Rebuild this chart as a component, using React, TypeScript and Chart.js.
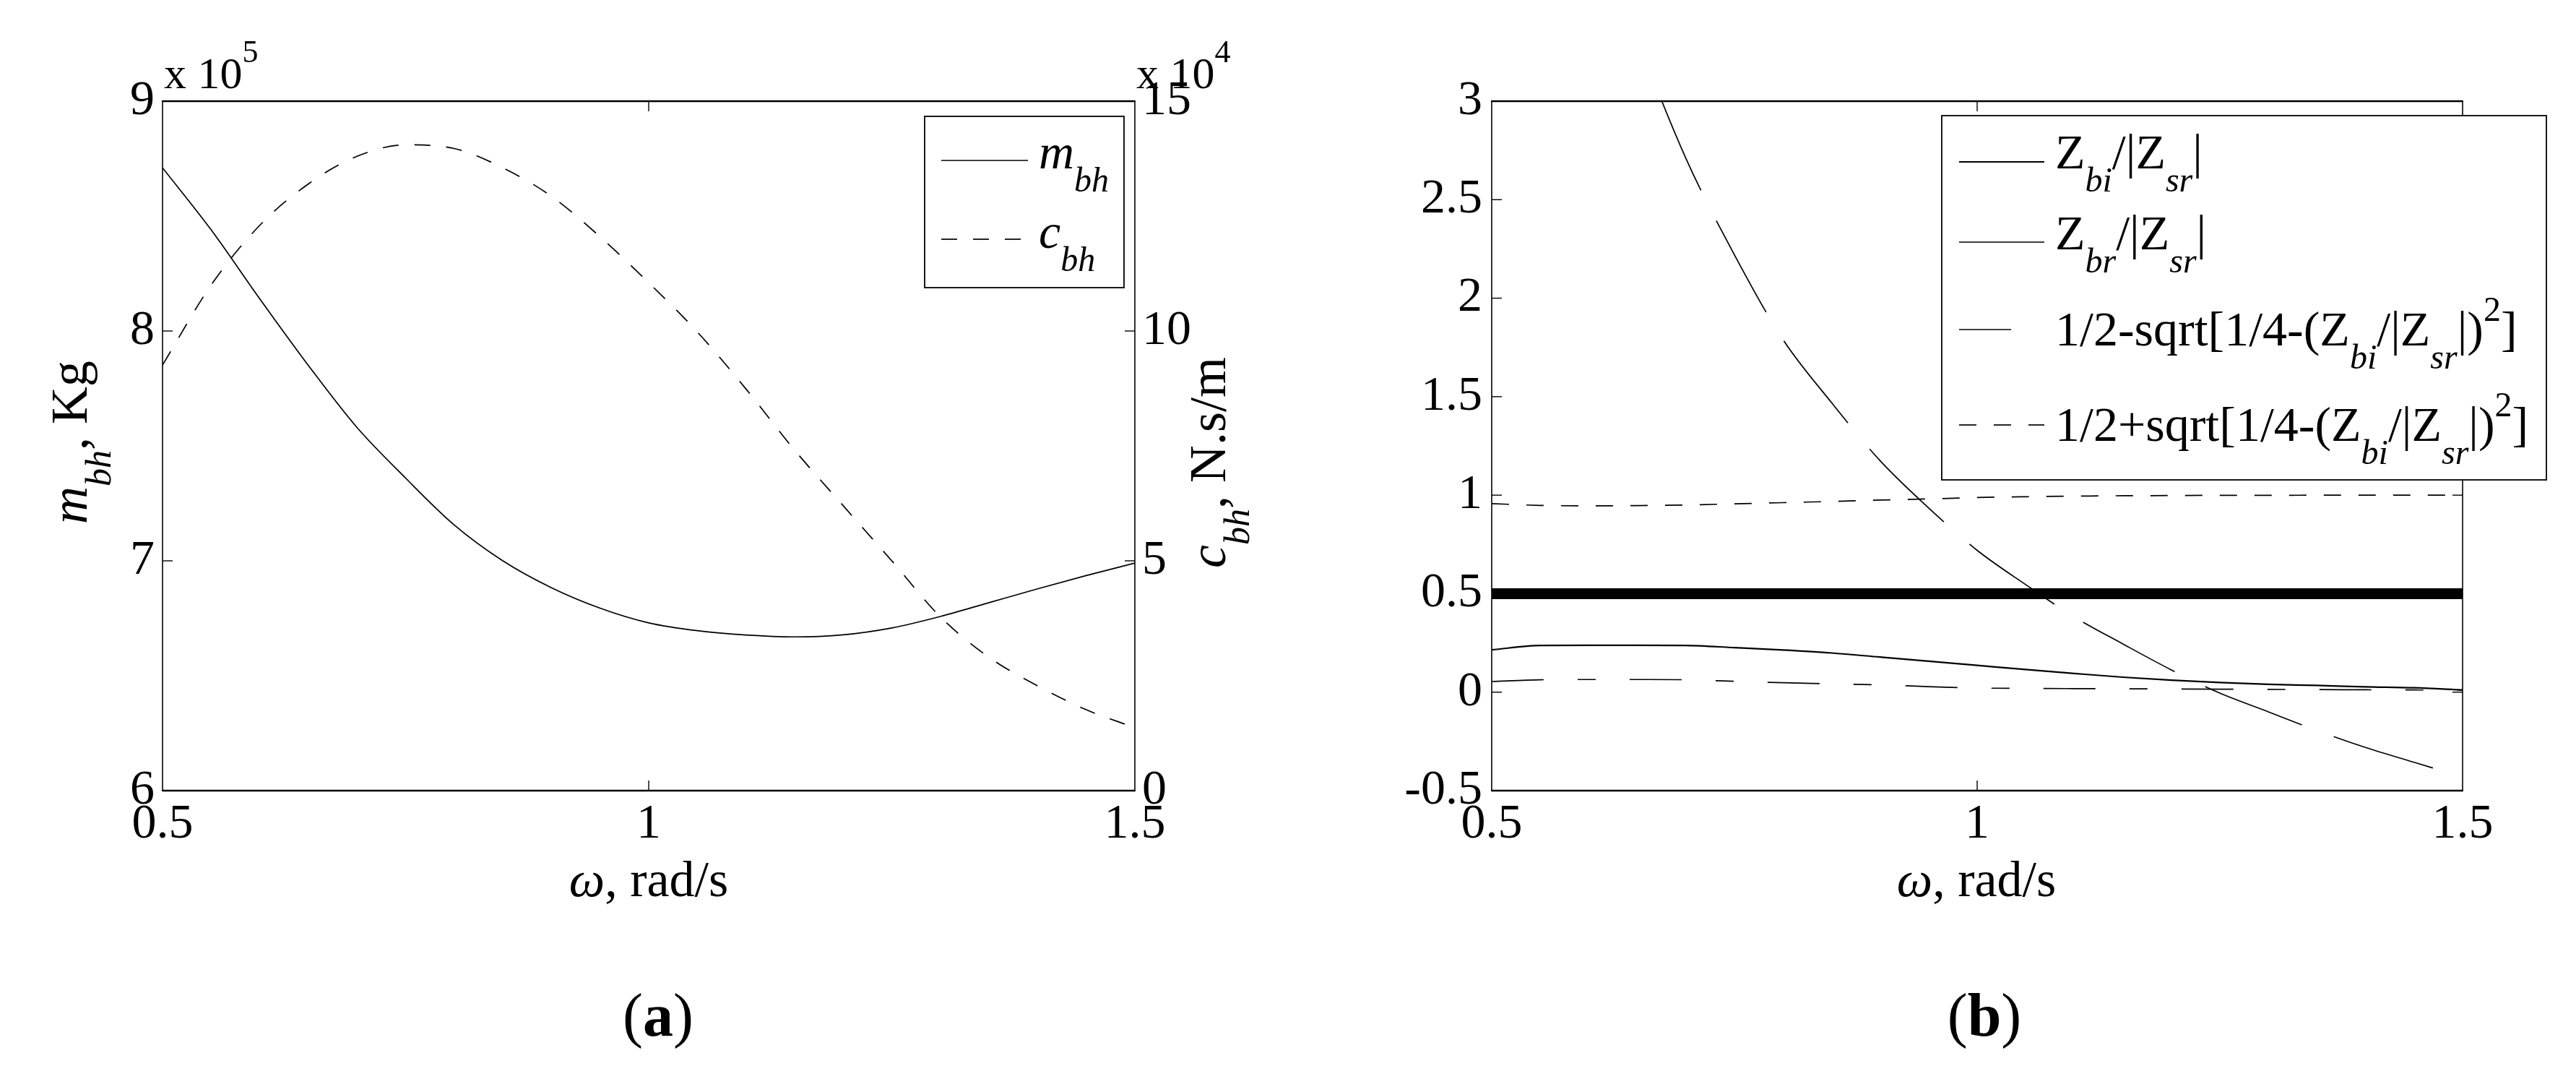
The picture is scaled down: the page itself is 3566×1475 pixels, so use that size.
import React, { useEffect, useRef } from "react";
import { Chart, registerables } from "chart.js";

Chart.register(...registerables);

const SERIF = "'Liberation Serif', 'Times New Roman', Times, serif";

// ---------- data ----------
const omega = [0.5, 0.55, 0.6, 0.65, 0.7, 0.75, 0.8, 0.85, 0.9, 0.95, 1.0, 1.05, 1.1, 1.15, 1.2, 1.25, 1.3, 1.35, 1.4, 1.45, 1.5];

// panel (a): m_bh in units of 10^5 Kg, c_bh in units of 10^4 N.s/m
const massBh = [8.71, 8.44, 8.14, 7.85, 7.58, 7.36, 7.156, 7.0, 6.883, 6.794, 6.73, 6.696, 6.677, 6.669, 6.678, 6.708, 6.758, 6.818, 6.878, 6.936, 6.99];
const dampBh = [9.26, 11.0, 12.3, 13.2, 13.8, 14.05, 13.97, 13.55, 12.93, 12.05, 11.05, 9.98, 8.74, 7.41, 6.2, 5.0, 3.78, 2.9, 2.28, 1.76, 1.37];

// panel (b)
const zbiRatio = [0.215, 0.237, 0.238, 0.238, 0.237, 0.226, 0.214, 0.199, 0.178, 0.157, 0.136, 0.115, 0.095, 0.076, 0.061, 0.049, 0.04, 0.034, 0.027, 0.022, 0.011];
const zbrRatio = [5.7, 4.8, 4.0, 3.32, 2.71, 2.22, 1.79, 1.47, 1.175, 0.935, 0.72, 0.546, 0.382, 0.245, 0.113, -0.005, -0.1, -0.195, -0.281, -0.356, -0.43];
const rootMinus = [0.054, 0.063, 0.064, 0.064, 0.063, 0.055, 0.048, 0.042, 0.037, 0.028, 0.021, 0.019, 0.018, 0.017, 0.016, 0.015, 0.014, 0.013, 0.012, 0.011, 0.01];
const rootPlus = [0.957, 0.948, 0.946, 0.947, 0.95, 0.956, 0.962, 0.968, 0.975, 0.981, 0.988, 0.992, 0.995, 0.997, 0.998, 0.999, 0.999, 1.0, 1.0, 1.0, 1.0];
const halfOmega = [0.5, 1.5];
const halfLevel = [0.5, 0.5];

// tick labels
const omegaTicks = [0.5, 1, 1.5];
const massTicks = [6, 7, 8, 9];
const dampTicks = [0, 5, 10, 15];
const ratioTicks = [-0.5, 0, 0.5, 1, 1.5, 2, 2.5, 3];

// ---------- rich text helpers ----------
type Seg = { t: string; s: number; i?: boolean; b?: boolean; dy?: number };
const fontOf = (g: Seg) => `${g.i ? "italic " : ""}${g.b ? "bold " : ""}${g.s}px ${SERIF}`;

function richWidth(ctx: CanvasRenderingContext2D, segs: Seg[]) {
  let w = 0;
  for (const g of segs) {
    ctx.font = fontOf(g);
    w += ctx.measureText(g.t).width;
  }
  return w;
}
function drawRich(ctx: CanvasRenderingContext2D, segs: Seg[], x: number, y: number, align: "left" | "center") {
  let cx = align === "center" ? x - richWidth(ctx, segs) / 2 : x;
  ctx.textAlign = "left";
  ctx.textBaseline = "alphabetic";
  for (const g of segs) {
    ctx.font = fontOf(g);
    ctx.fillText(g.t, cx, y + (g.dy || 0));
    cx += ctx.measureText(g.t).width;
  }
}

interface TextItem { segs: Seg[]; x: number; y: number; align: "left" | "center"; rotate?: boolean }
interface LegendRow { ds: number; lineY: number; baseY: number; segs: Seg[] }
interface Decor {
  texts: TextItem[];
  legend: { box: [number, number, number, number]; lineX: [number, number]; textX: number; rows: LegendRow[] };
  yTickSides: { id: string; side: "left" | "right" }[];
}

const TICK_LEN = 14;

function decorPlugin(d: Decor) {
  return {
    id: "decor",
    afterDraw(chart: any) {
      const ctx: CanvasRenderingContext2D = chart.ctx;
      const a = chart.chartArea;
      const seg = (x0: number, y0: number, x1: number, y1: number) => {
        ctx.beginPath();
        ctx.moveTo(x0, y0);
        ctx.lineTo(x1, y1);
        ctx.stroke();
      };
      ctx.save();
      ctx.strokeStyle = "#000";
      ctx.fillStyle = "#000";
      ctx.setLineDash([]);
      ctx.lineCap = "butt";

      // inward ticks
      ctx.lineWidth = 1.4;
      const xs = chart.scales.x;
      xs.ticks.forEach((t: any) => {
        const px = xs.getPixelForValue(t.value);
        if (px <= a.left + 1 || px >= a.right - 1) return;
        seg(px, a.bottom, px, a.bottom - TICK_LEN);
        seg(px, a.top, px, a.top + TICK_LEN);
      });
      d.yTickSides.forEach(({ id, side }) => {
        const s = chart.scales[id];
        s.ticks.forEach((t: any) => {
          const py = s.getPixelForValue(t.value);
          if (py <= a.top + 1 || py >= a.bottom - 1) return;
          const x0 = side === "left" ? a.left : a.right;
          const x1 = side === "left" ? x0 + TICK_LEN : x0 - TICK_LEN;
          seg(x0, py, x1, py);
        });
      });

      // axes box
      ctx.lineWidth = 2.4;
      seg(a.left - 0.8, a.top, a.right + 0.8, a.top);
      seg(a.left - 0.8, a.bottom, a.right + 0.8, a.bottom);
      ctx.lineWidth = 1.6;
      seg(a.left, a.top, a.left, a.bottom);
      seg(a.right, a.top, a.right, a.bottom);

      // legend
      const L = d.legend;
      const [bx0, by0, bx1, by1] = L.box;
      ctx.fillStyle = "#fff";
      ctx.fillRect(bx0, by0, bx1 - bx0, by1 - by0);
      ctx.fillStyle = "#000";
      ctx.lineWidth = 1.8;
      ctx.strokeRect(bx0, by0, bx1 - bx0, by1 - by0);
      L.rows.forEach((r) => {
        const ds = chart.data.datasets[r.ds];
        ctx.lineWidth = Math.min(ds.borderWidth || 1.5, 3);
        ctx.setLineDash(ds.borderDash || []);
        seg(L.lineX[0], r.lineY, L.lineX[1], r.lineY);
        ctx.setLineDash([]);
        drawRich(ctx, r.segs, L.textX, r.baseY, "left");
      });

      // texts
      d.texts.forEach((t) => {
        if (t.rotate) {
          ctx.save();
          ctx.translate(t.x, t.y);
          ctx.rotate(-Math.PI / 2);
          drawRich(ctx, t.segs, 0, 0, "center");
          ctx.restore();
        } else {
          drawRich(ctx, t.segs, t.x, t.y, t.align);
        }
      });
      ctx.restore();
    },
  };
}

// ---------- shared axis helpers ----------
const tickFont = { family: SERIF, size: 68 };
const fmt = (v: number) => String(Math.round(v * 10) / 10);

function xAxis() {
  return {
    type: "linear",
    min: 0.5,
    max: 1.5,
    afterBuildTicks: (s: any) => {
      s.ticks = omegaTicks.map((v) => ({ value: v }));
    },
    afterFit: (s: any) => {
      s.height = 381;
    },
    ticks: { font: tickFont, color: "#000", padding: 6, maxRotation: 0, autoSkip: false, callback: (v: any) => fmt(Number(v)) },
    grid: { display: false, drawTicks: false },
    border: { display: false },
  };
}

const sub = (t: string, s = 48, dy = 32): Seg => ({ t, s, i: true, dy });

// ---------- panel configs ----------
function configA() {
  const decor: Decor = {
    texts: [
      { segs: [{ t: "x 10", s: 62 }, { t: "5", s: 44, dy: -36 }], x: 227, y: 122, align: "left" },
      { segs: [{ t: "x 10", s: 62 }, { t: "4", s: 44, dy: -36 }], x: 1573, y: 122, align: "left" },
      { segs: [{ t: "m", s: 72, i: true }, sub("bh", 50, 33), { t: ", Kg", s: 72 }], x: 120, y: 612, align: "center", rotate: true },
      { segs: [{ t: "c", s: 72, i: true }, sub("bh", 50, 33), { t: ", N.s/m", s: 72 }], x: 1696, y: 640, align: "center", rotate: true },
      { segs: [{ t: "ω", s: 70, i: true }, { t: ", rad/s", s: 70 }], x: 898, y: 1240, align: "center" },
      { segs: [{ t: "(", s: 84 }, { t: "a", s: 84, b: true }, { t: ")", s: 84 }], x: 911, y: 1433, align: "center" },
    ],
    legend: {
      box: [1280, 161, 1556, 398],
      lineX: [1303, 1423],
      textX: 1438,
      rows: [
        { ds: 0, lineY: 222, baseY: 233, segs: [{ t: "m", s: 68, i: true }, sub("bh")] },
        { ds: 1, lineY: 331, baseY: 343, segs: [{ t: "c", s: 68, i: true }, sub("bh")] },
      ],
    },
    yTickSides: [
      { id: "y", side: "left" },
      { id: "y1", side: "right" },
    ],
  };
  return {
    type: "line",
    data: {
      datasets: [
        {
          label: "m_bh",
          data: omega.map((x, i) => ({ x, y: massBh[i] })),
          yAxisID: "y",
          borderColor: "#000",
          borderWidth: 1.7,
          pointRadius: 0,
          cubicInterpolationMode: "monotone",
          fill: false,
        },
        {
          label: "c_bh",
          data: omega.map((x, i) => ({ x, y: dampBh[i] })),
          yAxisID: "y1",
          borderColor: "#000",
          borderWidth: 1.7,
          borderDash: [22, 22],
          pointRadius: 0,
          cubicInterpolationMode: "monotone",
          fill: false,
        },
      ],
    },
    options: {
      responsive: false,
      animation: false,
      devicePixelRatio: 1,
      events: [],
      layout: { padding: { top: 140, left: 0, right: 0, bottom: 0 } },
      plugins: { legend: { display: false }, tooltip: { enabled: false }, title: { display: false } },
      scales: {
        x: xAxis(),
        y: {
          type: "linear",
          position: "left",
          min: 6,
          max: 9,
          afterBuildTicks: (s: any) => {
            s.ticks = massTicks.map((v) => ({ value: v }));
          },
          afterFit: (s: any) => {
            s.width = 225;
          },
          ticks: { font: tickFont, color: "#000", padding: 11, callback: (v: any) => fmt(Number(v)) },
          grid: { display: false, drawTicks: false },
          border: { display: false },
        },
        y1: {
          type: "linear",
          position: "right",
          min: 0,
          max: 15,
          afterBuildTicks: (s: any) => {
            s.ticks = dampTicks.map((v) => ({ value: v }));
          },
          afterFit: (s: any) => {
            s.width = 212;
          },
          ticks: { font: tickFont, color: "#000", padding: 10, callback: (v: any) => fmt(Number(v)) },
          grid: { display: false, drawTicks: false },
          border: { display: false },
        },
      },
    },
    plugins: [decorPlugin(decor)],
  };
}

function ratioSegs(sign: string): Seg[] {
  return [
    { t: `1/2${sign}sqrt[1/4-(Z`, s: 68 },
    sub("bi"),
    { t: "/|Z", s: 68 },
    sub("sr"),
    { t: "|)", s: 68 },
    { t: "2", s: 48, dy: -34 },
    { t: "]", s: 68 },
  ];
}

function configB() {
  const decor: Decor = {
    texts: [
      { segs: [{ t: "ω", s: 70, i: true }, { t: ", rad/s", s: 70 }], x: 953, y: 1240, align: "center" },
      { segs: [{ t: "(", s: 84 }, { t: "b", s: 84, b: true }, { t: ")", s: 84 }], x: 964, y: 1433, align: "center" },
    ],
    legend: {
      box: [905, 160, 1742, 664],
      lineX: [929, 1047],
      textX: 1062,
      rows: [
        { ds: 0, lineY: 224, baseY: 233, segs: [{ t: "Z", s: 68 }, sub("bi"), { t: "/|Z", s: 68 }, sub("sr"), { t: "|", s: 68 }] },
        { ds: 1, lineY: 335, baseY: 345, segs: [{ t: "Z", s: 68 }, sub("br"), { t: "/|Z", s: 68 }, sub("sr"), { t: "|", s: 68 }] },
        { ds: 2, lineY: 456, baseY: 478, segs: ratioSegs("-") },
        { ds: 3, lineY: 588, baseY: 610, segs: ratioSegs("+") },
      ],
    },
    yTickSides: [
      { id: "y", side: "left" },
      { id: "y", side: "right" },
    ],
  };
  const line = (label: string, ys: number[], width: number, dash: number[]) => ({
    label,
    data: omega.map((x, i) => ({ x, y: ys[i] })),
    borderColor: "#000",
    borderWidth: width,
    borderDash: dash,
    pointRadius: 0,
    cubicInterpolationMode: "monotone",
    fill: false,
  });
  return {
    type: "line",
    data: {
      datasets: [
        line("Zbi/|Zsr|", zbiRatio, 2.2, []),
        line("Zbr/|Zsr|", zbrRatio, 1.7, [144, 47]),
        line("1/2-sqrt[1/4-(Zbi/|Zsr|)^2]", rootMinus, 1.7, [72, 47, 25, 47]),
        line("1/2+sqrt[1/4-(Zbi/|Zsr|)^2]", rootPlus, 1.7, [24, 24]),
        {
          label: "0.5",
          data: halfOmega.map((x, i) => ({ x, y: halfLevel[i] })),
          borderColor: "#000",
          borderWidth: 15,
          pointRadius: 0,
          fill: false,
        },
      ],
    },
    options: {
      responsive: false,
      animation: false,
      devicePixelRatio: 1,
      events: [],
      layout: { padding: { top: 140, left: 0, right: 157, bottom: 0 } },
      plugins: { legend: { display: false }, tooltip: { enabled: false }, title: { display: false } },
      scales: {
        x: xAxis(),
        y: {
          type: "linear",
          position: "left",
          min: -0.5,
          max: 3,
          afterBuildTicks: (s: any) => {
            s.ticks = ratioTicks.map((v) => ({ value: v }));
          },
          afterFit: (s: any) => {
            s.width = 282;
          },
          ticks: { font: tickFont, color: "#000", padding: 13, callback: (v: any) => fmt(Number(v)) },
          grid: { display: false, drawTicks: false },
          border: { display: false },
        },
      },
    },
    plugins: [decorPlugin(decor)],
  };
}

// ---------- components ----------
function Panel({ left, make }: { left: number; make: () => any }) {
  const ref = useRef<HTMLCanvasElement | null>(null);
  useEffect(() => {
    if (!ref.current) return;
    const chart = new Chart(ref.current, make());
    return () => chart.destroy();
  }, [make]);
  return (
    <canvas
      ref={ref}
      width={1783}
      height={1475}
      style={{ position: "absolute", left, top: 0, width: 1783, height: 1475, display: "block" }}
    />
  );
}

export default function App() {
  return (
    <div style={{ position: "absolute", left: 0, top: 0, width: 3566, height: 1475, background: "#fff", overflow: "hidden" }}>
      <Panel left={0} make={configA} />
      <Panel left={1783} make={configB} />
    </div>
  );
}
